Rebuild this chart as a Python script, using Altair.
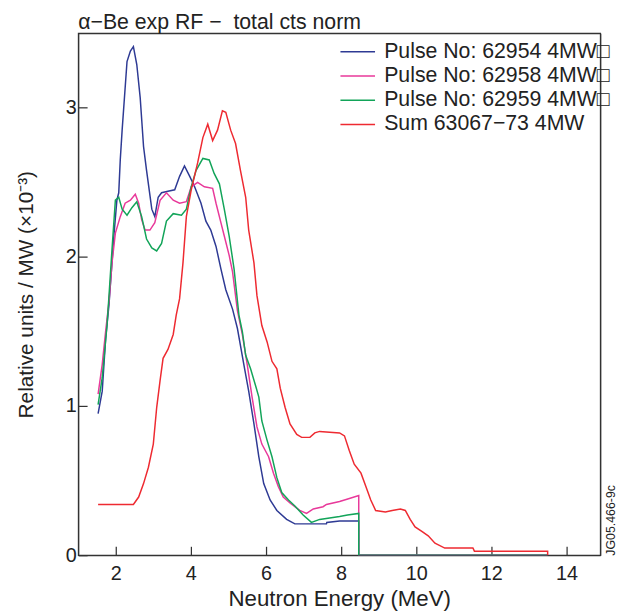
import altair as alt
import pandas as pd

series_names = [
    "Pulse No: 62954 4MW\u25a1",
    "Pulse No: 62958 4MW\u25a1",
    "Pulse No: 62959 4MW\u25a1",
    "Sum 63067\u221273 4MW",
]
series_colors = ["#2e3a94", "#e8399a", "#12a459", "#ee2a31"]

blue = [(1.53, 0.95), (1.64, 1.10), (1.73, 1.45), (1.82, 1.68), (1.95, 2.14), (2.03, 2.38),
        (2.08, 2.43), (2.12, 2.65), (2.17, 2.85), (2.30, 3.31), (2.39, 3.38), (2.47, 3.41),
        (2.56, 3.29), (2.65, 3.07), (2.74, 2.74), (2.82, 2.58), (2.96, 2.32), (3.04, 2.27),
        (3.13, 2.40), (3.22, 2.43), (3.39, 2.44), (3.57, 2.45), (3.70, 2.54), (3.83, 2.61),
        (3.97, 2.54), (4.10, 2.47), (4.27, 2.36), (4.40, 2.24), (4.53, 2.18), (4.67, 2.07),
        (4.80, 1.92), (4.93, 1.78), (5.11, 1.65), (5.24, 1.52), (5.41, 1.28), (5.54, 1.10),
        (5.68, 0.88), (5.81, 0.66), (5.94, 0.48), (6.11, 0.37), (6.29, 0.30), (6.55, 0.24),
        (6.77, 0.21), (7.61, 0.21), (7.62, 0.22), (7.96, 0.23), (8.47, 0.23), (8.47, 0.0),
        (13.5, 0.0)]

pink = [(1.53, 1.08), (1.64, 1.28), (1.73, 1.50), (1.82, 1.70), (1.90, 1.96), (1.99, 2.16),
        (2.12, 2.27), (2.25, 2.36), (2.39, 2.38), (2.52, 2.42), (2.61, 2.36), (2.69, 2.25),
        (2.78, 2.18), (2.91, 2.18), (3.04, 2.23), (3.18, 2.38), (3.35, 2.43), (3.53, 2.38),
        (3.70, 2.36), (3.88, 2.37), (4.01, 2.47), (4.18, 2.50), (4.36, 2.47), (4.58, 2.46),
        (4.67, 2.36), (4.80, 2.23), (4.89, 2.14), (5.02, 2.01), (5.11, 1.90), (5.24, 1.64),
        (5.37, 1.48), (5.50, 1.28), (5.63, 1.06), (5.76, 0.86), (5.89, 0.745), (6.07, 0.66),
        (6.20, 0.55), (6.33, 0.46), (6.46, 0.39), (6.64, 0.35), (6.90, 0.30), (7.08, 0.28),
        (7.26, 0.31), (7.52, 0.325), (7.61, 0.34), (7.96, 0.36), (8.22, 0.38), (8.47, 0.40),
        (8.47, 0.0), (13.5, 0.0)]

green = [(1.53, 1.01), (1.64, 1.19), (1.77, 1.55), (1.82, 1.74), (1.90, 2.05), (1.99, 2.38),
         (2.08, 2.40), (2.17, 2.32), (2.30, 2.28), (2.43, 2.33), (2.56, 2.37), (2.69, 2.27),
         (2.82, 2.12), (2.96, 2.06), (3.09, 2.04), (3.22, 2.09), (3.35, 2.24), (3.53, 2.29),
         (3.75, 2.28), (3.88, 2.32), (4.01, 2.47), (4.14, 2.58), (4.32, 2.66), (4.49, 2.65),
         (4.62, 2.56), (4.76, 2.49), (4.89, 2.32), (5.02, 2.14), (5.15, 1.92), (5.28, 1.61),
         (5.37, 1.50), (5.46, 1.34), (5.59, 1.25), (5.72, 1.14), (5.81, 1.06), (5.89, 0.90),
         (6.03, 0.77), (6.16, 0.66), (6.29, 0.52), (6.42, 0.42), (6.60, 0.37), (6.77, 0.33),
         (6.99, 0.27), (7.21, 0.22), (7.43, 0.24), (7.96, 0.26), (8.17, 0.27), (8.47, 0.28),
         (8.47, 0.0), (13.5, 0.0)]

red = [(1.53, 0.34), (2.47, 0.34), (2.61, 0.39), (2.74, 0.48), (2.87, 0.59), (3.00, 0.745),
       (3.09, 0.99), (3.18, 1.17), (3.26, 1.32), (3.39, 1.38), (3.53, 1.48), (3.61, 1.61),
       (3.70, 1.72), (3.79, 1.96), (3.88, 2.27), (4.01, 2.45), (4.18, 2.63), (4.32, 2.80),
       (4.45, 2.89), (4.58, 2.78), (4.71, 2.85), (4.84, 2.98), (4.93, 2.97), (5.06, 2.85),
       (5.19, 2.76), (5.32, 2.58), (5.46, 2.40), (5.54, 2.18), (5.68, 1.96), (5.76, 1.74),
       (5.89, 1.54), (6.03, 1.43), (6.16, 1.30), (6.29, 1.25), (6.38, 1.12), (6.51, 0.99),
       (6.64, 0.88), (6.82, 0.81), (6.95, 0.79), (7.17, 0.79), (7.30, 0.82), (7.43, 0.83),
       (7.96, 0.82), (8.09, 0.80), (8.22, 0.70), (8.35, 0.61), (8.53, 0.55), (8.66, 0.46),
       (8.79, 0.37), (8.92, 0.30), (9.18, 0.29), (9.36, 0.30), (9.58, 0.31), (9.71, 0.30),
       (9.84, 0.24), (9.97, 0.19), (10.15, 0.16), (10.32, 0.13), (10.50, 0.08), (10.76, 0.048),
       (11.51, 0.048), (11.55, 0.027), (13.5, 0.027), (13.5, 0.0)]

x_ticks = [2, 4, 6, 8, 10, 12, 14]
y_ticks = [0, 1, 2, 3]

rows = []
for name, pts in zip(series_names, [blue, pink, green, red]):
    for i, (e, v) in enumerate(pts):
        rows.append({"series": name, "energy": e, "value": v, "idx": i})
df = pd.DataFrame(rows)

FONT = "Liberation Sans"
TXT = "#222222"
FRAME = "#333333"
LW = 1.25
X_DOMAIN = [1.0, 14.9]
Y_DOMAIN = [0, 3.5]

lines = alt.Chart(df).mark_line(strokeWidth=1.5, clip=True).encode(
    x=alt.X(
        "energy:Q",
        scale=alt.Scale(domain=X_DOMAIN, nice=False, zero=False),
        axis=alt.Axis(
            values=x_ticks, title="Neutron Energy (MeV)", format="d",
            domain=True, domainColor=FRAME, domainWidth=LW, domainOpacity=1,
            ticks=True, tickColor=FRAME, tickWidth=LW, tickOpacity=1,
            tickSize=alt.ExprRef(expr="-9"), grid=False,
            labelPadding=18, labelFontSize=20, titleFontSize=22.5, titlePadding=4,
        ),
    ),
    y=alt.Y(
        "value:Q",
        scale=alt.Scale(domain=Y_DOMAIN, nice=False),
        axis=alt.Axis(
            values=y_ticks, title="Relative units / MW (\u00d710\u207b\u00b3)", format="d",
            domain=True, domainColor=FRAME, domainWidth=LW, domainOpacity=1,
            ticks=True, tickColor=FRAME, tickWidth=LW, tickOpacity=1,
            tickSize=alt.ExprRef(expr="-9"), grid=False,
            labelPadding=11, labelFontSize=20, titleFontSize=21, titlePadding=29,
        ),
    ),
    color=alt.Color(
        "series:N",
        scale=alt.Scale(domain=series_names, range=series_colors),
        legend=alt.Legend(
            title=None, orient="none", legendX=272, legendY=8, symbolType="M-3,0H3",
            symbolSize=136, symbolStrokeWidth=1.5, labelFontSize=21.5, labelFont=FONT,
            labelColor=TXT, labelOffset=16, padding=0, rowPadding=1.5, labelLimit=400,
        ),
    ),
    order=alt.Order("idx:Q"),
)

note = alt.Chart(df).mark_point(opacity=0).encode(
    x=alt.X(
        "energy:Q",
        scale=alt.Scale(domain=X_DOMAIN, nice=False, zero=False),
        axis=alt.Axis(
            orient="top", title=None, labels=False, ticks=False, grid=False,
            domain=True, domainColor=FRAME, domainWidth=LW, domainOpacity=1,
        ),
    ),
    y=alt.Y(
        "value:Q",
        scale=alt.Scale(domain=Y_DOMAIN, nice=False),
        axis=alt.Axis(
            orient="right", title="JG05.466-9c", labels=False, ticks=False, grid=False,
            domain=True, domainColor=FRAME, domainWidth=LW, domainOpacity=1,
            titleAngle=270, titleAnchor="start", titleFontSize=12.5, titlePadding=4,
            titleAlign="left", titleBaseline="top",
        ),
    ),
)

chart = alt.layer(lines, note).resolve_axis(x="independent", y="independent").properties(
    width=528,
    height=528,
    padding={"left": 7, "top": 0, "right": 2, "bottom": 0},
    title=alt.TitleParams(
        "\u03b1\u2212Be exp RF \u2212\u00a0 total cts norm", anchor="start", frame="group",
        fontSize=21.5, font=FONT, fontWeight="normal", color=TXT, offset=0,
    ),
).configure_view(stroke=FRAME, strokeWidth=LW, strokeOpacity=1).configure_axis(
    labelFont=FONT, titleFont=FONT, labelColor=TXT, titleColor=TXT,
    titleFontWeight="normal",
)

chart.save("out.html", embed_options={"renderer": "svg", "actions": False})
